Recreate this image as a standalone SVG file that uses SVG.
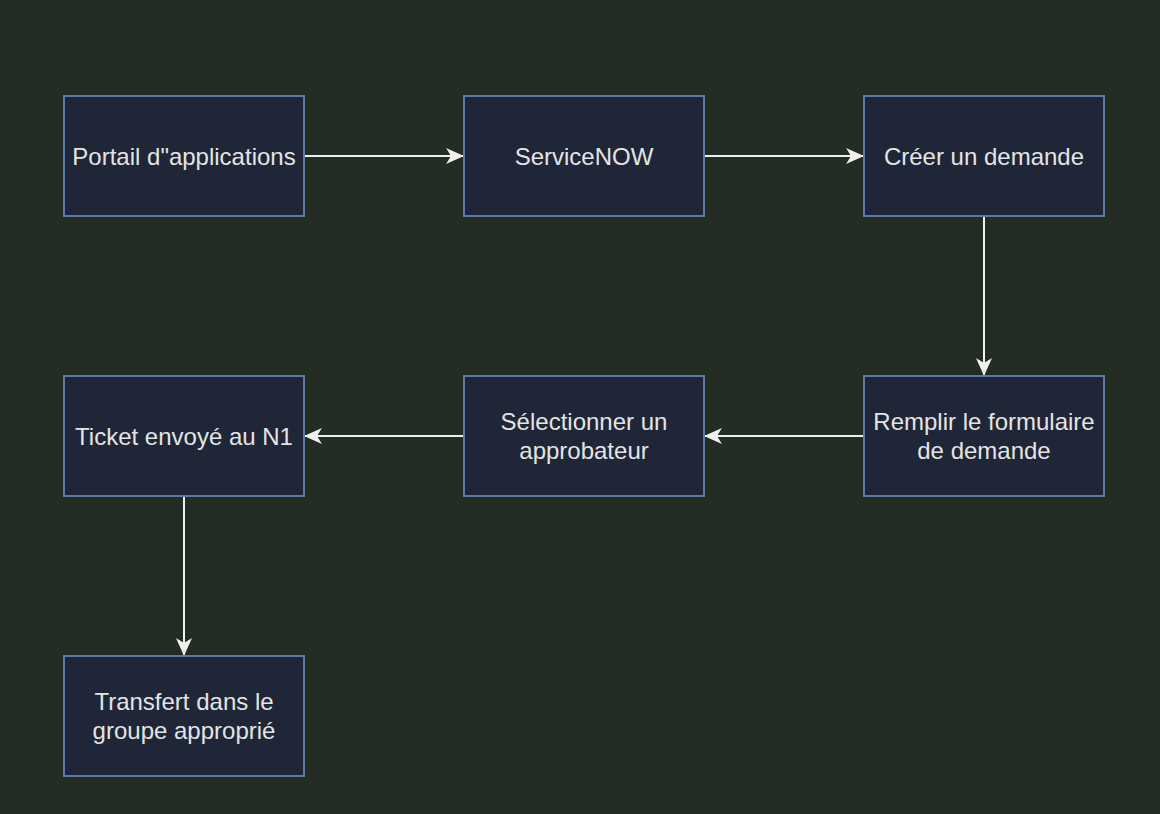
<svg xmlns="http://www.w3.org/2000/svg" width="1160" height="814" viewBox="0 0 1160 814">
<style>
.box{fill:#1e2637;stroke:#5c7aa6;stroke-width:2}
.lbl{font-family:"Liberation Sans",Arial,sans-serif;font-size:24px;fill:#e4e4e4;text-anchor:middle;dominant-baseline:central}
.edge{stroke:#f0f0f0;stroke-width:2;fill:none}
</style>
<defs>
<marker id="arr" viewBox="0 0 18 16" refX="17" refY="8" markerWidth="18" markerHeight="16" markerUnits="userSpaceOnUse" orient="auto">
<path d="M0,0 L18,8 L0,16 L5,8 Z" fill="#f0f0f0"/>
</marker>
</defs>
<rect width="1160" height="814" fill="#232c22"/>
<g id="connectors">
<path class="edge" d="M305,156 H463" marker-end="url(#arr)"/>
<path class="edge" d="M705,156 H863" marker-end="url(#arr)"/>
<path class="edge" d="M984,217 V375" marker-end="url(#arr)"/>
<path class="edge" d="M863,436 H705" marker-end="url(#arr)"/>
<path class="edge" d="M463,436 H305" marker-end="url(#arr)"/>
<path class="edge" d="M184,497 V655" marker-end="url(#arr)"/>
</g>
<g id="n1"><rect class="box" x="64" y="96" width="240" height="120"/><text class="lbl" x="184" y="156">Portail d"applications</text></g>
<g id="n2"><rect class="box" x="464" y="96" width="240" height="120"/><text class="lbl" x="584" y="156">ServiceNOW</text></g>
<g id="n3"><rect class="box" x="864" y="96" width="240" height="120"/><text class="lbl" x="984" y="156">Créer un demande</text></g>
<g id="n4"><rect class="box" x="864" y="376" width="240" height="120"/><text class="lbl" x="984" y="421">Remplir le formulaire</text><text class="lbl" x="984" y="450">de demande</text></g>
<g id="n5"><rect class="box" x="464" y="376" width="240" height="120"/><text class="lbl" x="584" y="421">Sélectionner un</text><text class="lbl" x="584" y="450">approbateur</text></g>
<g id="n6"><rect class="box" x="64" y="376" width="240" height="120"/><text class="lbl" x="184" y="436">Ticket envoyé au N1</text></g>
<g id="n7"><rect class="box" x="64" y="656" width="240" height="120"/><text class="lbl" x="184" y="701">Transfert dans le</text><text class="lbl" x="184" y="730">groupe approprié</text></g>
</svg>
